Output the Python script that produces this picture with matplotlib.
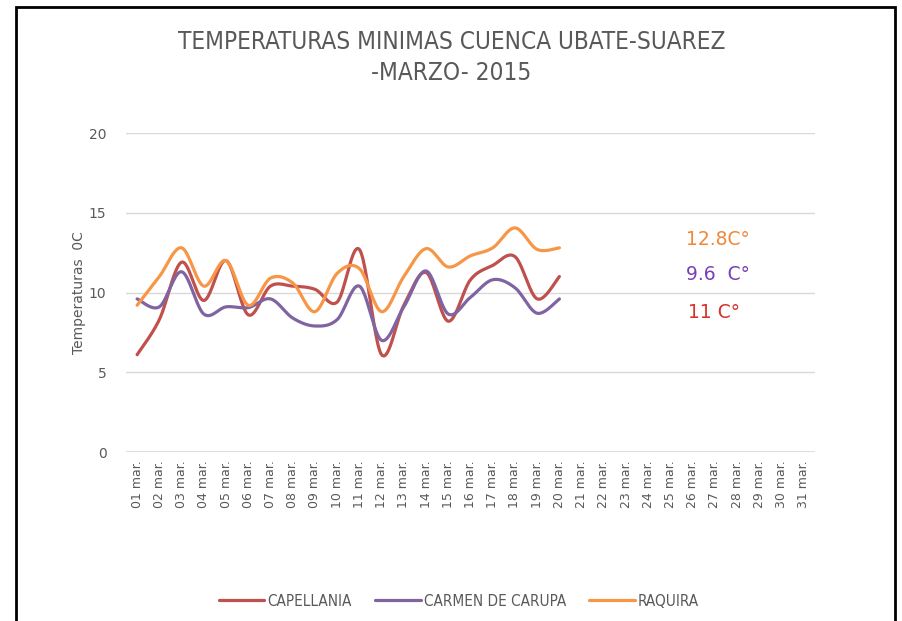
import matplotlib

matplotlib.use("Agg")
import matplotlib.pyplot as plt
import numpy as np
from matplotlib.patches import Rectangle

# categories: 31 days of March, only the first 20 have readings
days = [f"{d:02d} mar." for d in range(1, 32)]
capellania = [6.1, 8.3, 11.9, 9.5, 12.0, 8.6, 10.4, 10.4, 10.2, 9.4,
              12.7, 6.1, 9.2, 11.25, 8.2, 10.8, 11.7, 12.25, 9.6, 11.0]
carmen = [9.6, 9.1, 11.3, 8.65, 9.1, 9.05, 9.6, 8.4, 7.9, 8.3,
          10.4, 7.0, 9.1, 11.35, 8.65, 9.7, 10.8, 10.3, 8.7, 9.6]
raquira = [9.2, 11.0, 12.8, 10.4, 12.0, 9.2, 10.9, 10.6, 8.8, 11.2,
           11.5, 8.8, 11.0, 12.75, 11.6, 12.3, 12.8, 14.05, 12.7, 12.8]
yticks = [0, 5, 10, 15, 20]
notes = [("12.8C°", "#F0883A"), ("9.6  C°", "#7B3FB5"), ("11 C°", "#D8322C")]

GRAY = "#595959"


def smooth(y, n=24):
    # Excel-style smoothed line (Catmull-Rom through the points)
    y = np.asarray(y, float)
    x = np.arange(len(y), dtype=float)
    p = np.concatenate([[y[0]], y, [y[-1]]])
    q = np.concatenate([[x[0]], x, [x[-1]]])
    xs, ys = [], []
    t = np.linspace(0, 1, n, endpoint=False)
    for i in range(len(y) - 1):
        p0, p1, p2, p3 = p[i], p[i + 1], p[i + 2], p[i + 3]
        x0, x1, x2, x3 = q[i], q[i + 1], q[i + 2], q[i + 3]
        c1y, c2y = p1 + (p2 - p0) / 6, p2 - (p3 - p1) / 6
        c1x, c2x = x1 + (x2 - x0) / 6, x2 - (x3 - x1) / 6
        b = [(1 - t) ** 3, 3 * (1 - t) ** 2 * t, 3 * (1 - t) * t ** 2, t ** 3]
        xs.append(b[0] * x1 + b[1] * c1x + b[2] * c2x + b[3] * x2)
        ys.append(b[0] * p1 + b[1] * c1y + b[2] * c2y + b[3] * p2)
    xs.append([x[-1]])
    ys.append([y[-1]])
    return np.concatenate(xs), np.concatenate(ys)


fig = plt.figure(figsize=(9.03, 6.21), dpi=100, facecolor="white")
ax = fig.add_axes([126 / 903, 1 - 452 / 621, (815 - 126) / 903, (452 - 133) / 621])

series = [("CAPELLANIA", capellania, "#C0504D"),
          ("CARMEN DE CARUPA", carmen, "#8064A2"),
          ("RAQUIRA", raquira, "#F79646")]
for label, vals, col in series:
    sx, sy = smooth(vals)
    ax.plot(sx, sy, color=col, lw=2.3, label=label, solid_capstyle="round")

ax.set_xlim(-0.5, len(days) - 0.5)
ax.set_ylim(0, 20)
ax.set_xticks(range(len(days)))
ax.set_xticklabels(days, rotation=90, fontsize=9, color=GRAY)
ax.set_yticks(yticks)
ax.set_yticklabels([str(v) for v in yticks], fontsize=10, color=GRAY)
ax.tick_params(length=0, pad=14)
ax.tick_params(axis="x", pad=6)
ax.grid(axis="y", color="#D9D9D9", lw=1)
ax.set_axisbelow(True)
for s in ax.spines.values():
    s.set_visible(False)
ax.axhline(0, color="#D9D9D9", lw=1.2)
ax.set_ylabel("Temperaturas  0C", fontsize=10, color=GRAY, labelpad=2)

fig.text(0.5, 1 - 42 / 621, "TEMPERATURAS MINIMAS CUENCA UBATE-SUAREZ", ha="center", va="center",
         fontsize=17.5, color=GRAY, fontstretch="condensed")
fig.text(0.5, 1 - 73 / 621, "-MARZO- 2015", ha="center", va="center",
         fontsize=17.5, color=GRAY, fontstretch="condensed")

for (txt, col), (px, py) in zip(notes, [(718, 240), (718, 274), (714, 313)]):
    fig.text(px / 903, 1 - py / 621, txt, ha="center", va="center", fontsize=13.5, color=col)

leg = fig.legend(loc="center", bbox_to_anchor=(0.508, 1 - 601 / 621), ncol=3, frameon=False,
                 prop={"size": 11, "stretch": "condensed"}, handlelength=3.0, handletextpad=0.2,
                 columnspacing=1.5)
for t in leg.get_texts():
    t.set_color(GRAY)

fig.patches.append(Rectangle((16 / 903, -0.05), (895 - 16) / 903, 1.05 - 7 / 621,
                             transform=fig.transFigure, fill=False, ec="black", lw=2))

fig.savefig("out.png", dpi=100)
